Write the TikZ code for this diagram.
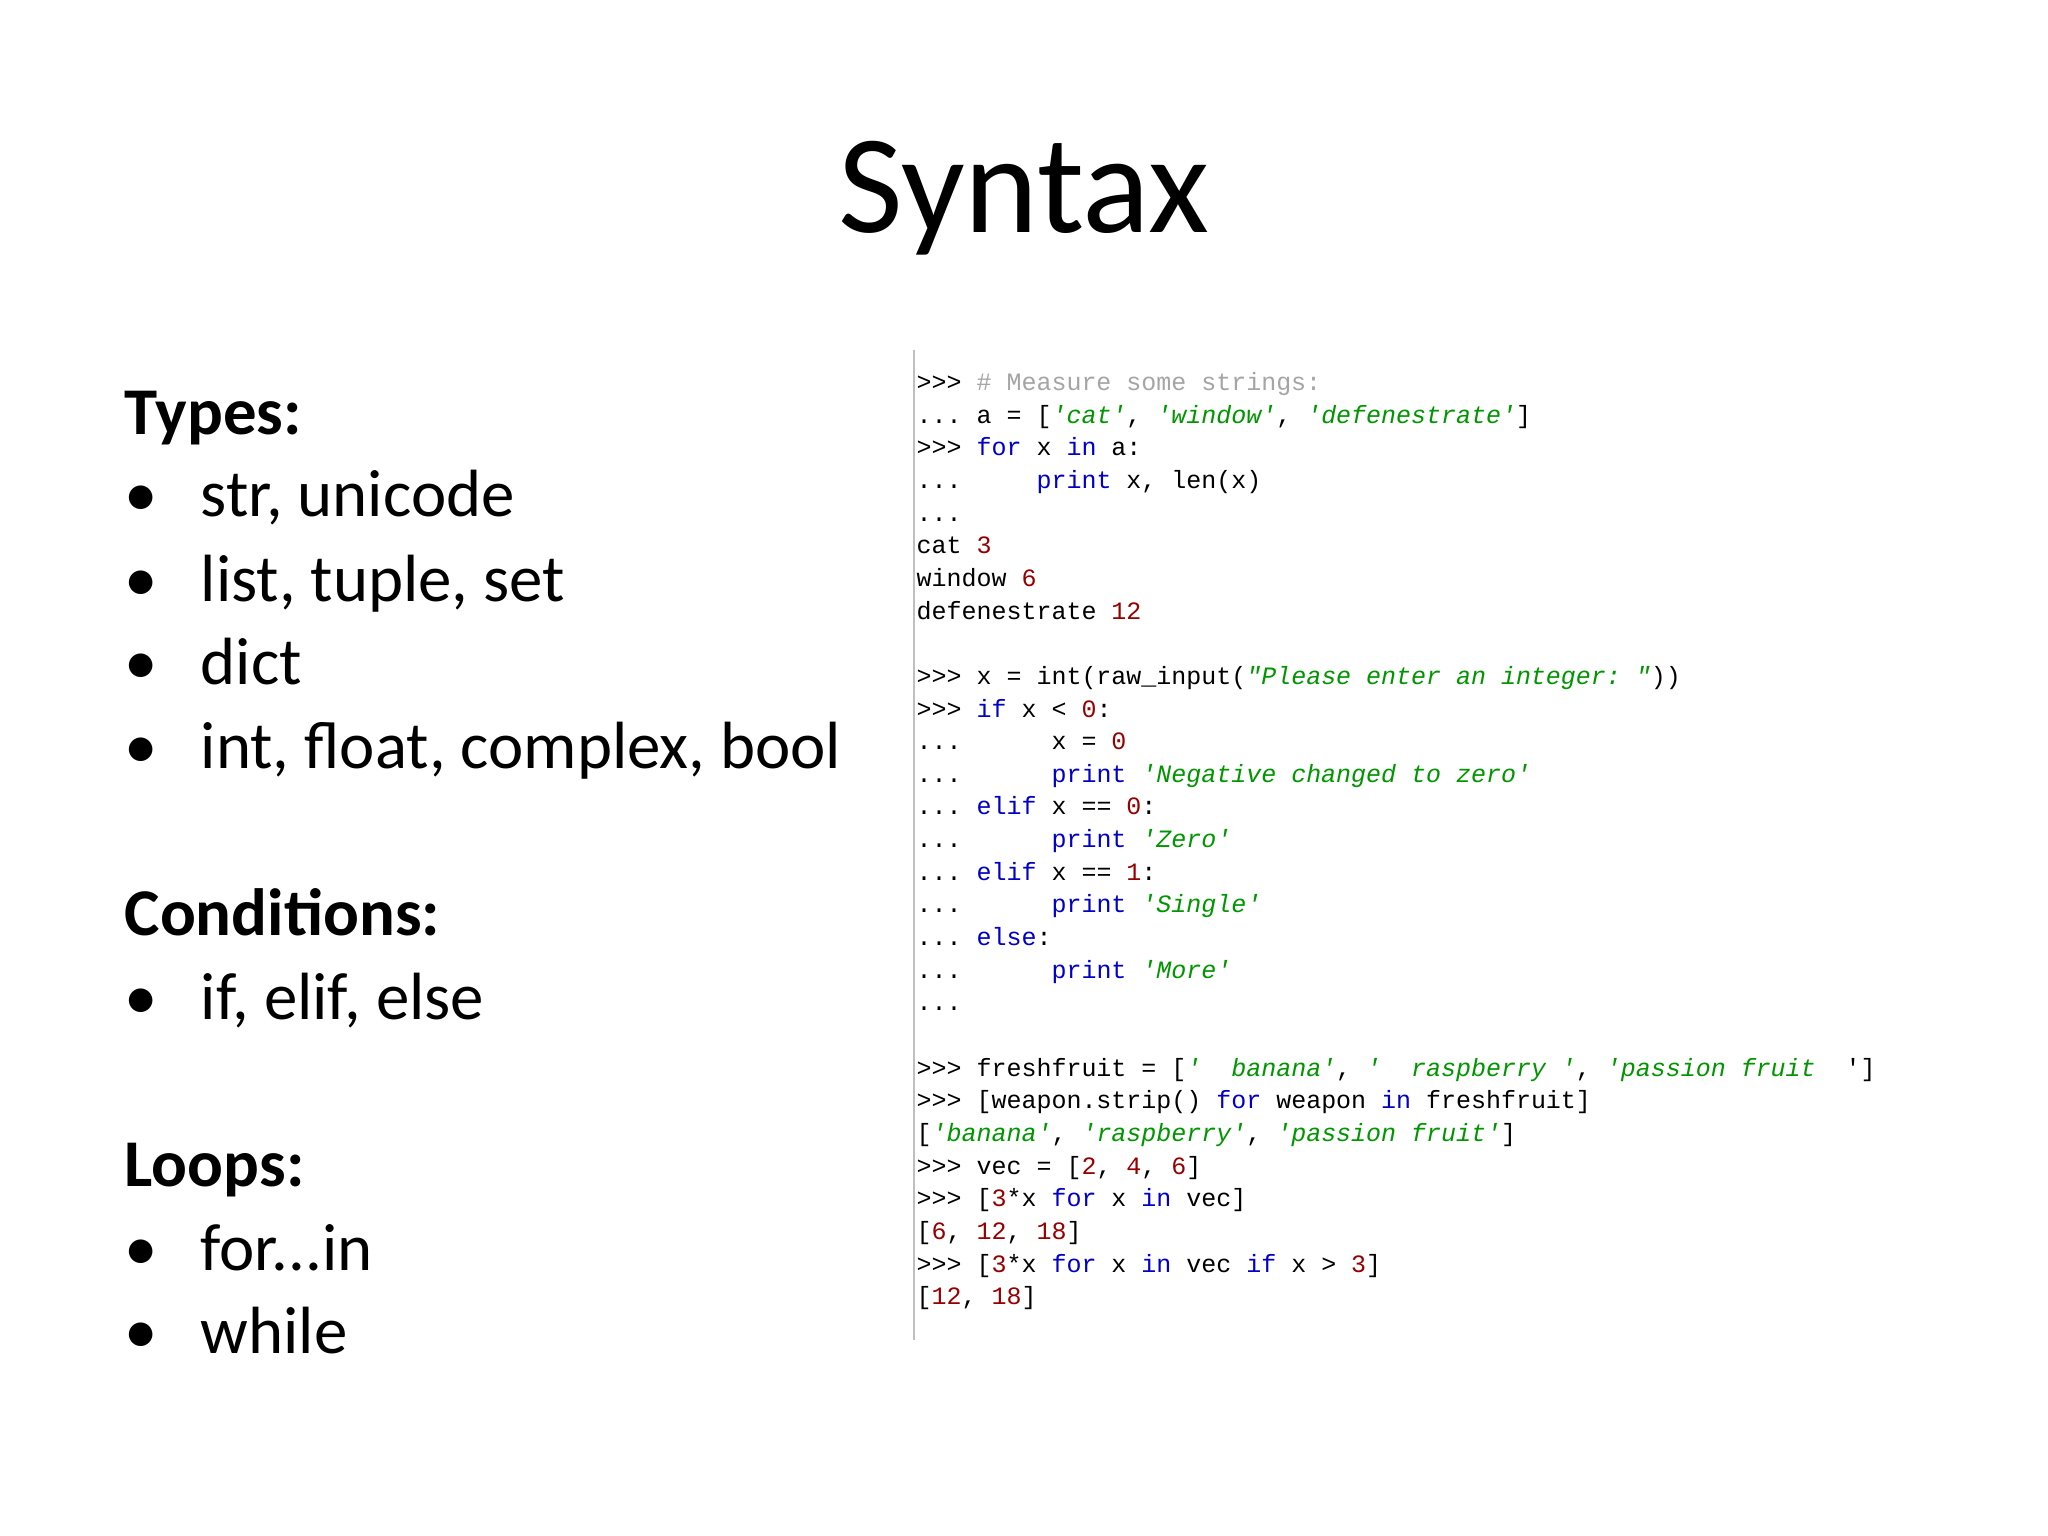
\documentclass[tikz,border=0pt]{standalone}
\usepackage{fontspec}
\setmainfont{Carlito}
\setmonofont{Liberation Mono}
\definecolor{kw}{RGB}{0,0,200}
\definecolor{st}{RGB}{0,150,0}
\definecolor{nm}{RGB}{150,0,0}
\definecolor{cm}{RGB}{165,165,165}
\newcommand\kw[1]{\textcolor{kw}{#1}}
\newcommand\st[1]{\textcolor{st}{\itshape #1}}
\newcommand\nm[1]{\textcolor{nm}{#1}}
\newcommand\cmt[1]{\textcolor{cm}{#1}}
\newcommand\q{{\char39}}
\newcommand\dq{{\char34}}
\newcommand\cy[1]{{390.5+32.65*#1}}
\begin{document}
\begin{tikzpicture}[x=0.01cm,y=-0.01cm,
  head/.style={anchor=base west,font=\fontsize{19}{22}\selectfont\bfseries,inner sep=0},
  item/.style={anchor=base west,font=\fontsize{19}{22}\selectfont,inner sep=0},
  code/.style={anchor=base west,font=\fontsize{7.1}{8}\selectfont\ttfamily,inner sep=0}]
\fill[white] (0,0) rectangle (2048,1536);
\node[anchor=base,font=\fontsize{40}{44}\selectfont,inner sep=0] (title) at (1024,232) {Syntax};
\node[head] (h1) at (124,434) {Types:};
\foreach \t/\y [count=\i] in {{str, unicode}/516,{list, tuple, set}/601,{dict}/684,{int, float, complex, bool}/768,{if, elif, else}/1019,{for...in}/1270,{while}/1353}{
  \node[item] (b\i) at (124,\y) {•};
  \node[item] (t\i) at (200,\y) {\t};
}
\node[head] (h2) at (124,935) {Conditions:};
\node[head] (h3) at (124,1186) {Loops:};
\coordinate (vt) at (914,350);
\coordinate (vb) at (914,1340);
\draw[gray!50,line width=0.6pt] (vt) -- (vb);
\node[code] (c0) at (916,390.5) {>>>\ \cmt{\#\ Measure\ some\ strings:}};
\node[code] (c1) at (916,423.15) {...\ a\ =\ [\st{\q cat\q},\ \st{\q window\q},\ \st{\q defenestrate\q}]};
\node[code] (c2) at (916,455.8) {>>>\ \kw{for}\ x\ \kw{in}\ a:};
\node[code] (c3) at (916,488.45) {...\ \ \ \ \ \kw{print}\ x,\ len(x)};
\node[code] (c4) at (916,521.1) {...};
\node[code] (c5) at (916,553.75) {cat\ \nm{3}};
\node[code] (c6) at (916,586.4) {window\ \nm{6}};
\node[code] (c7) at (916,619.05) {defenestrate\ \nm{12}};
\node[code] (c9) at (916,684.35) {>>>\ x\ =\ int(raw\_input(\st{\dq Please\ enter\ an\ integer:\ \dq}))};
\node[code] (c10) at (916,717) {>>>\ \kw{if}\ x\ <\ \nm{0}:};
\node[code] (c11) at (916,749.65) {...\ \ \ \ \ \ x\ =\ \nm{0}};
\node[code] (c12) at (916,782.3) {...\ \ \ \ \ \ \kw{print}\ \st{\q Negative\ changed\ to\ zero\q}};
\node[code] (c13) at (916,814.95) {...\ \kw{elif}\ x\ ==\ \nm{0}:};
\node[code] (c14) at (916,847.6) {...\ \ \ \ \ \ \kw{print}\ \st{\q Zero\q}};
\node[code] (c15) at (916,880.25) {...\ \kw{elif}\ x\ ==\ \nm{1}:};
\node[code] (c16) at (916,912.9) {...\ \ \ \ \ \ \kw{print}\ \st{\q Single\q}};
\node[code] (c17) at (916,945.55) {...\ \kw{else}:};
\node[code] (c18) at (916,978.2) {...\ \ \ \ \ \ \kw{print}\ \st{\q More\q}};
\node[code] (c19) at (916,1010.85) {...};
\node[code] (c21) at (916,1076.15) {>>>\ freshfruit\ =\ [\st{\q\ \ banana\q},\ \st{\q\ \ raspberry\ \q},\ \st{\q passion\ fruit\ \ }\q]};
\node[code] (c22) at (916,1108.8) {>>>\ [weapon.strip()\ \kw{for}\ weapon\ \kw{in}\ freshfruit]};
\node[code] (c23) at (916,1141.45) {[\st{\q banana\q},\ \st{\q raspberry\q},\ \st{\q passion\ fruit\q}]};
\node[code] (c24) at (916,1174.1) {>>>\ vec\ =\ [\nm{2},\ \nm{4},\ \nm{6}]};
\node[code] (c25) at (916,1206.75) {>>>\ [\nm{3}*x\ \kw{for}\ x\ \kw{in}\ vec]};
\node[code] (c26) at (916,1239.4) {[\nm{6},\ \nm{12},\ \nm{18}]};
\node[code] (c27) at (916,1272.05) {>>>\ [\nm{3}*x\ \kw{for}\ x\ \kw{in}\ vec\ \kw{if}\ x\ >\ \nm{3}]};
\node[code] (c28) at (916,1304.7) {[\nm{12},\ \nm{18}]};
\end{tikzpicture}
\end{document}
